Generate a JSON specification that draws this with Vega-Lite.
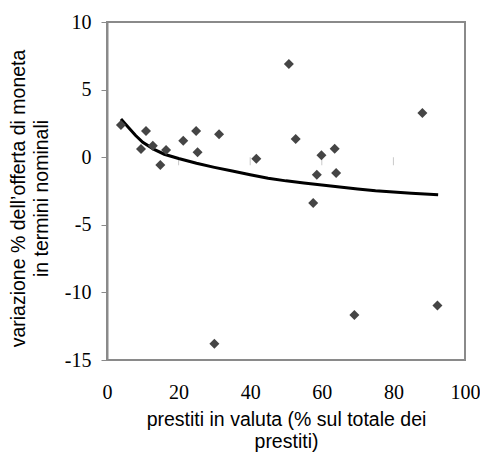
{
  "$schema": "https://vega.github.io/schema/vega-lite/v6.json",
  "width": 358,
  "height": 338,
  "autosize": "none",
  "padding": {"left": 107, "top": 22, "right": 15, "bottom": 92},
  "background": "white",
  "config": {
    "view": {"stroke": "#8a8a8a", "strokeWidth": 2},
    "axis": {"grid": false}
  },
  "datasets": {
    "pts": [
      {"x": 3.9, "y": 2.38},
      {"x": 10.9, "y": 1.94},
      {"x": 9.5, "y": 0.6},
      {"x": 12.8, "y": 0.85},
      {"x": 16.5, "y": 0.53},
      {"x": 14.9, "y": -0.58},
      {"x": 21.3, "y": 1.22},
      {"x": 24.9, "y": 1.94},
      {"x": 25.3, "y": 0.36},
      {"x": 31.3, "y": 1.69},
      {"x": 41.7, "y": -0.11},
      {"x": 50.8, "y": 6.89},
      {"x": 52.7, "y": 1.35},
      {"x": 58.6, "y": -1.29},
      {"x": 59.9, "y": 0.14},
      {"x": 63.6, "y": 0.63},
      {"x": 64.0, "y": -1.17},
      {"x": 88.1, "y": 3.27},
      {"x": 57.6, "y": -3.39},
      {"x": 30.0, "y": -13.8},
      {"x": 69.1, "y": -11.67},
      {"x": 92.3, "y": -10.96}
    ],
    "trend": [
      {"x": 3.9, "y": 2.82},
      {"x": 6, "y": 2.2},
      {"x": 8, "y": 1.6},
      {"x": 10, "y": 1.1},
      {"x": 13, "y": 0.6},
      {"x": 16, "y": 0.22},
      {"x": 20, "y": -0.1},
      {"x": 25, "y": -0.45},
      {"x": 30, "y": -0.75},
      {"x": 35, "y": -1.02},
      {"x": 40, "y": -1.3},
      {"x": 45, "y": -1.55},
      {"x": 50, "y": -1.75},
      {"x": 55, "y": -1.9},
      {"x": 60, "y": -2.05},
      {"x": 65, "y": -2.2},
      {"x": 70, "y": -2.35},
      {"x": 75, "y": -2.48},
      {"x": 80, "y": -2.58},
      {"x": 85, "y": -2.67},
      {"x": 92.5, "y": -2.77}
    ],
    "ticks": [
      {"x": 20, "y": 0},
      {"x": 40, "y": 0},
      {"x": 60, "y": 0},
      {"x": 80, "y": 0}
    ]
  },
  "encoding": {
    "x": {
      "field": "x", "type": "quantitative",
      "scale": {"domain": [0, 100], "nice": false, "zero": false},
      "axis": {
        "values": [0, 20, 40, 60, 80, 100],
        "ticks": false, "domain": false,
        "labelFont": "Liberation Serif", "labelFontSize": 20, "labelColor": "black",
        "labelPadding": 22, "labelFlush": false,
        "title": ["prestiti in valuta (% sul totale dei", "prestiti)"],
        "titleFont": "Liberation Sans", "titleFontSize": 19.5, "titleFontWeight": "normal",
        "titleColor": "black", "titleLineHeight": 22, "titleBaseline": "top", "titleY": 50
      }
    },
    "y": {
      "field": "y", "type": "quantitative",
      "scale": {"domain": [-15, 10], "nice": false, "zero": false},
      "axis": {
        "values": [-15, -10, -5, 0, 5, 10],
        "labelExpr": "datum.value < 0 ? '-' + abs(datum.value) : '' + datum.value",
        "tickSize": 6, "tickColor": "#8a8a8a", "domainColor": "#8a8a8a", "domainWidth": 2,
        "labelFont": "Liberation Serif", "labelFontSize": 20, "labelColor": "black",
        "labelPadding": 10,
        "title": ["variazione % dell’offerta di moneta", "in termini nominali"],
        "titleFont": "Liberation Sans", "titleFontSize": 19.5, "titleFontWeight": "normal",
        "titleColor": "black", "titleLineHeight": 23, "titleBaseline": "bottom",
        "titleX": -79, "titleY": 176, "titleAngle": -90
      }
    }
  },
  "layer": [
    {
      "data": {"name": "ticks"},
      "mark": {"type": "tick", "orient": "vertical", "size": 8, "thickness": 1, "color": "#b0b0b0", "yOffset": 4}
    },
    {
      "data": {"name": "trend"},
      "mark": {"type": "line", "color": "black", "strokeWidth": 3, "interpolate": "linear"}
    },
    {
      "data": {"name": "pts"},
      "mark": {"type": "point", "shape": "diamond", "filled": true, "size": 100, "color": "#454545", "opacity": 1}
    }
  ]
}
